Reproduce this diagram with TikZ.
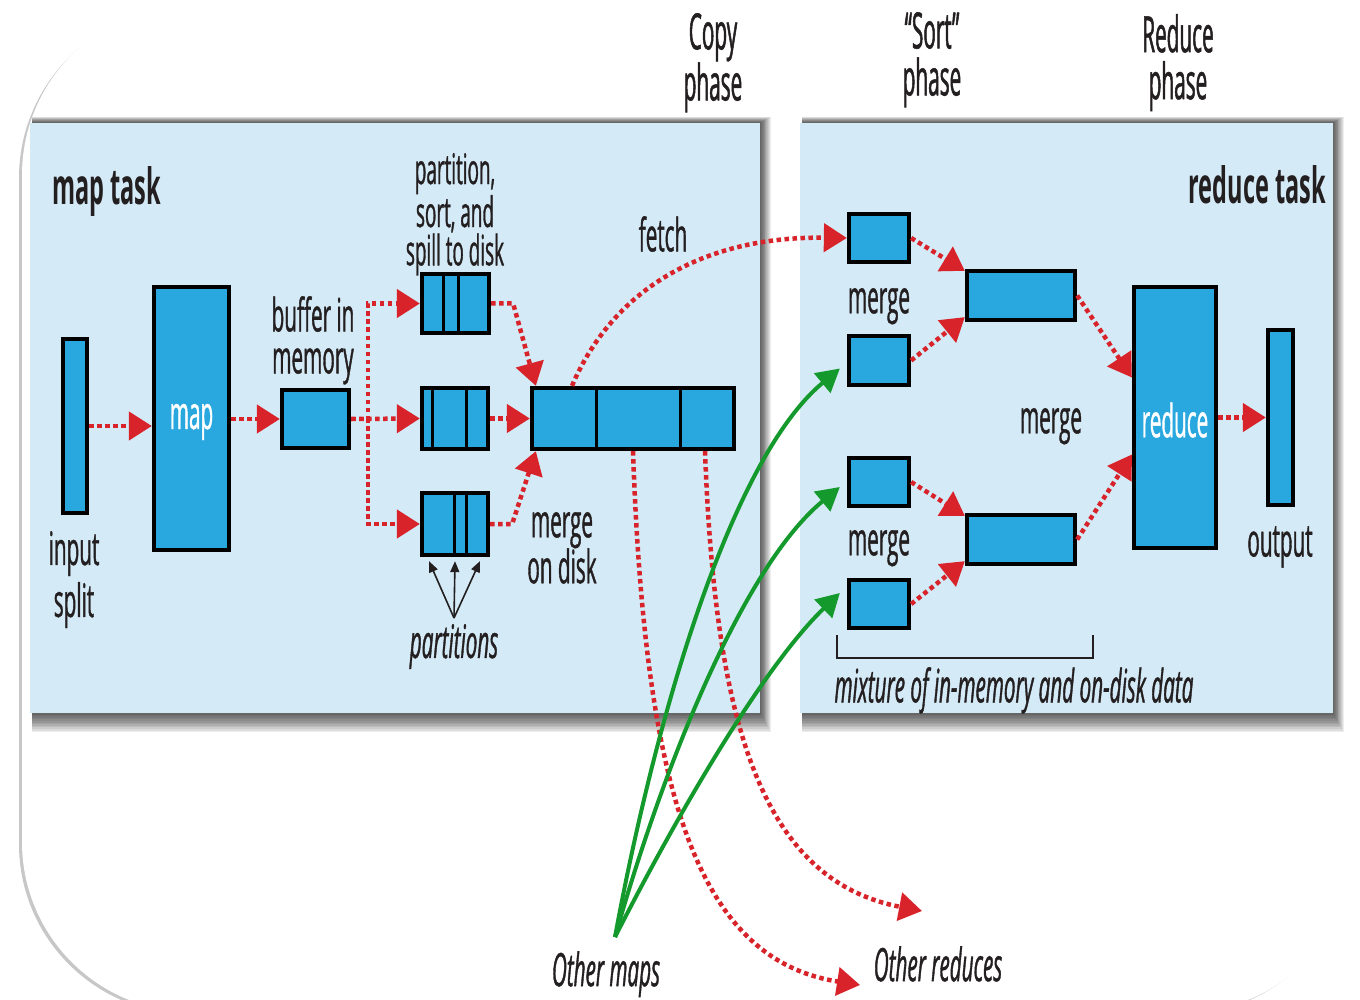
\documentclass[tikz,border=0pt]{standalone}
\usepackage{fontspec}
\setmainfont{Open Sans}[FakeStretch=0.45,FakeBold=0.8]
\newfontfamily\boldf{Open Sans}[FakeStretch=0.47,UprightFont=* Bold]
\newfontfamily\headf{Open Sans}[FakeStretch=0.415,FakeBold=1]
\usetikzlibrary{arrows.meta,calc}
\definecolor{panel}{HTML}{D4EAF6}
\definecolor{boxblue}{HTML}{29A7DF}
\definecolor{myred}{HTML}{D8232A}
\definecolor{mygreen}{HTML}{14992C}
\definecolor{txt}{HTML}{231F20}
\begin{document}
\begin{tikzpicture}[x=1pt,y=-1pt,
  box/.style={draw=black, line width=3.8pt, fill=boxblue, inner sep=0pt},
  lbl/.style={text=txt, inner sep=0pt, align=center, font=\fontsize{46}{46}\selectfont},
  hdr/.style={text=txt, inner sep=0pt, align=center, font=\headf\fontsize{50}{47}\selectfont},
  wlbl/.style={text=white, inner sep=0pt, font=\fontsize{46}{46}\selectfont},
  ttl/.style={text=txt, inner sep=0pt, font=\boldf\fontsize{50}{50}\selectfont},
  rd/.style={draw=myred, line width=4.5pt, dash pattern=on 4.5pt off 3.5pt, -{Triangle[length=23pt,width=28pt]}},
  gr/.style={draw=mygreen, line width=4pt, -{Triangle[length=23pt,width=25pt]}},
  blk/.style={draw=txt, line width=1.6pt, -{Triangle[length=11pt,width=9pt]}},
  divider/.style={draw=black, line width=3pt}
]
\useasboundingbox (0,0) rectangle (1360,1000);
% outer frame
\fill[black!22, rounded corners=170pt] (19,8) rectangle (1352,1014);
\fill[white, rounded corners=170pt] (22,5) rectangle (1355,1012);
% panel shadows
\foreach \k in {1,...,12}{
  \fill[black,opacity=0.07] (32,123-0.5*\k) rectangle (760+0.9*\k,713+1.6*\k);
  \fill[black,opacity=0.07] (802,123-0.5*\k) rectangle (1333+0.9*\k,713+1.6*\k);
}
\fill[panel] (30,123) rectangle (760,713);
\fill[panel] (800,123) rectangle (1333,713);

% headings
\node[hdr, anchor=north] (copy) at (713,13) {Copy\\phase};
\node[hdr, anchor=north] (sortph) at (932,12) {“Sort”\\phase};
\node[hdr, anchor=north] (redph) at (1178,14) {Reduce\\phase};
\node[ttl, anchor=base west] (maptask) at (52,205) {map task};
\node[ttl, anchor=base east] (redtask) at (1326,204) {reduce task};

% map side boxes
\node[box, minimum width=24.5pt, minimum height=174.5pt] (split) at (75,426) {};
\node[box, minimum width=75.5pt, minimum height=263.5pt] (map) at (191.5,418.5) {};
\node[wlbl] at (191.5,422) {map};
\node[box, minimum width=67.5pt, minimum height=58.5pt] (buf) at (315.5,419) {};
\node[box, minimum width=67.5pt, minimum height=59.5pt] (s1) at (455.5,303.5) {};
\node[box, minimum width=66.5pt, minimum height=61.5pt] (s2) at (455,418.5) {};
\node[box, minimum width=66.5pt, minimum height=62.5pt] (s3) at (455,524) {};
\node[box, minimum width=202.5pt, minimum height=61.5pt] (mg) at (633,418.5) {};
\draw[divider] (443,274) -- (443,334) (458,274) -- (458,334);
\draw[divider] (432,389) -- (432,449) (466,389) -- (466,449);
\draw[divider] (454,494) -- (454,555) (466,494) -- (466,555);
\draw[divider] (596,389) -- (596,449) (680,389) -- (680,449);

% reduce side boxes
\node[box, minimum width=60.5pt, minimum height=48.5pt] (A) at (879,238) {};
\node[box, minimum width=60.5pt, minimum height=48.5pt] (B) at (879,360.5) {};
\node[box, minimum width=60.5pt, minimum height=48.5pt] (C) at (879,482) {};
\node[box, minimum width=60.5pt, minimum height=48.5pt] (D) at (879,604) {};
\node[box, minimum width=108.5pt, minimum height=49.5pt] (E) at (1021,295.5) {};
\node[box, minimum width=108.5pt, minimum height=49.5pt] (F) at (1021,539.5) {};
\node[box, minimum width=82.5pt, minimum height=261.5pt] (R) at (1175,417.5) {};
\node[wlbl] at (1175,420) {reduce};
\node[box, minimum width=25.5pt, minimum height=175.5pt] (O) at (1280.5,417.5) {};

% labels
\node[lbl, anchor=north, font=\fontsize{42}{37}\selectfont] (part) at (455,153) {partition,\\sort, and\\spill to disk};
\node[lbl, anchor=north] (fetch) at (663,216) {fetch};
\node[lbl, anchor=north, font=\fontsize{46}{42}\selectfont] (bufl) at (313,296) {buffer in\\memory};
\node[lbl, anchor=north, font=\fontsize{46}{52}\selectfont] (inl) at (74,531) {input\\split};
\node[lbl, anchor=north, font=\fontsize{46}{46}\selectfont] (mdl) at (562,512) {merge\\on disk};
\node[lbl, anchor=north, font=\itshape\fontsize{46}{46}\selectfont] (ptxt) at (454,624) {partitions};
\node[lbl, anchor=north] (mA) at (879,288) {merge};
\node[lbl, anchor=north] (mM) at (1051,408) {merge};
\node[lbl, anchor=north] (mC) at (879,530) {merge};
\node[lbl, anchor=north] (outl) at (1280,526) {output};
\node[lbl, anchor=north, font=\itshape\fontsize{46}{46}\selectfont] (mix) at (1014,667) {mixture of in-memory and on-disk data};
\node[lbl, anchor=north, font=\itshape\fontsize{46}{46}\selectfont] (omaps) at (606,951) {Other maps};
\node[lbl, anchor=north, font=\itshape\fontsize{46}{46}\selectfont] (ored) at (938,946) {Other reduces};

% bracket
\draw[txt, line width=2pt] (837,635) -- (837,658) -- (1093,658) -- (1093,635);

% partitions arrows
\coordinate (pp) at (454,618);
\draw[blk] (pp) -- ([xshift=-26pt,yshift=-4pt]s3.south);
\draw[blk] (pp) -- ([yshift=-4pt]s3.south);
\draw[blk] (pp) -- ([xshift=25pt,yshift=-4pt]s3.south);

% red arrows map side
\draw[rd] (split.east) -- (map.west |- split.east);
\draw[rd] (map.east |- buf.west) -- (buf.west);
\draw[rd] (buf.east) -- (s2.west);
\draw[rd] (buf.east) -- ++(17,0) |- (s1.west);
\draw[rd] (buf.east) -- ++(17,0) |- (s3.west);
\draw[rd] (s1.east) -- ++(22,0) -- ([xshift=6pt]mg.north west);
\draw[rd] (s2.east) -- (mg.west);
\draw[rd] (s3.east) -- ++(22,0) -- ([xshift=6pt]mg.south west);

% fetch and other reduces
\draw[rd] ([xshift=-61pt]mg.north) .. controls (612,292) and (700,236) .. (A.west);
\coordinate (or1) at (860,985);
\coordinate (or2) at (922,911);
\draw[rd] (mg.south) .. controls (645,800) and (700,960) .. (or1);
\draw[rd] ([xshift=72pt]mg.south) .. controls (715,720) and (760,880) .. (or2);

% red arrows reduce side
\draw[rd] (A.east) -- ([yshift=-2pt]E.north west);
\draw[rd] (B.east) -- ([yshift=5pt]E.south west);
\draw[rd] (E.east) -- ([yshift=40pt]R.west);
\draw[rd] (C.east) -- ([yshift=-3pt]F.north west);
\draw[rd] (D.east) -- ([yshift=5pt]F.south west);
\draw[rd] (F.east) -- ([yshift=-37pt]R.west);
\draw[rd] (R.east) -- (O.west);

% green arrows
\coordinate (om) at (615,937);
\draw[gr] (om) .. controls (655,720) and (730,460) .. ([xshift=-7pt,yshift=-8pt]B.west);
\draw[gr] (om) .. controls (665,760) and (745,565) .. ([xshift=-7pt,yshift=-5pt]C.west);
\draw[gr] (om) .. controls (690,790) and (770,660) .. ([xshift=-7pt,yshift=11pt]D.west);
\end{tikzpicture}
\end{document}
